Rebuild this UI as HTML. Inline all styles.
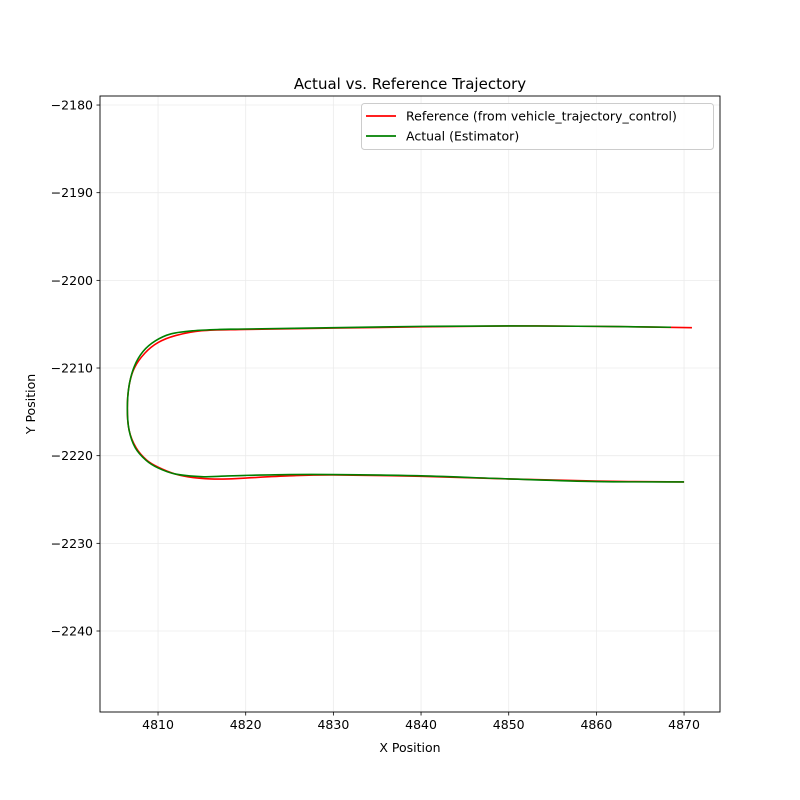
<!DOCTYPE html>
<html><head><meta charset="utf-8"><style>
html,body{margin:0;padding:0;background:#fff;}
svg{display:block;font-family:"DejaVu Sans","Liberation Sans",sans-serif;}
</style></head><body>
<svg id="chart" width="800" height="800" viewBox="0 0 800 800" xmlns="http://www.w3.org/2000/svg"></svg>
<script>
const xTicks = [4810, 4820, 4830, 4840, 4850, 4860, 4870];
const yTicks = [-2180, -2190, -2200, -2210, -2220, -2230, -2240];
const refX = [4870.9,4860,4850,4840,4830,4820,4815,4812,4810,4808.5,4807.3,4806.7,4806.5,4806.7,4807.5,4808.7,4810,4812,4814,4816,4818,4820,4825,4830,4840,4850,4860,4870];
const refY = [-2205.4,-2205.25,-2205.2,-2205.3,-2205.45,-2205.6,-2205.75,-2206.3,-2207.1,-2208.3,-2210,-2212,-2214.6,-2217.1,-2219.1,-2220.5,-2221.3,-2222.1,-2222.5,-2222.65,-2222.65,-2222.55,-2222.3,-2222.2,-2222.35,-2222.65,-2222.9,-2223.0];
const actX = [4870,4860,4850,4840,4830,4825,4820,4817,4815,4812,4810,4808.6,4807.4,4806.7,4806.5,4806.7,4807.3,4808.3,4809.7,4811.5,4814,4817,4820,4830,4840,4850,4860,4868.5];
const actY = [-2223.0,-2222.95,-2222.65,-2222.3,-2222.15,-2222.15,-2222.25,-2222.35,-2222.4,-2222.1,-2221.4,-2220.5,-2219.1,-2217.1,-2214.6,-2212,-2209.8,-2208.1,-2206.9,-2206.1,-2205.75,-2205.6,-2205.55,-2205.4,-2205.25,-2205.2,-2205.25,-2205.35];

const NS="http://www.w3.org/2000/svg";
const svg=document.getElementById('chart');
const L=100,R=720,T=96,B=712;
const xMin=4803.38,xMax=4874.1,yMin=-2249.24,yMax=-2178.97;
function sx(v){return L+(v-xMin)/(xMax-xMin)*(R-L);}
function sy(v){return B-(v-yMin)/(yMax-yMin)*(B-T);}
function mk(tag,attrs,parent){const e=document.createElementNS(NS,tag);for(const k in attrs)e.setAttribute(k,attrs[k]);(parent||svg).appendChild(e);return e;}

const grid=mk('g',{});


const xAxisG=mk('g',{});


xTicks.forEach(v=>{
  const x=sx(v);
  const gl=mk('line',{x1:x,x2:x,y1:T,y2:B,stroke:'#ebebeb','stroke-width':0.8},grid);
  
  
  const tk=mk('line',{x1:x,x2:x,y1:B,y2:B+3.5,stroke:'#000','stroke-width':0.8},xAxisG);
  
  
  const t=mk('text',{x:x,y:B+17,'font-size':12.5,'text-anchor':'middle',fill:'#000'},xAxisG);
  t.textContent=v;
  
  
});
const yAxisG=mk('g',{});


yTicks.forEach(v=>{
  const y=sy(v);
  const gl=mk('line',{x1:L,x2:R,y1:y,y2:y,stroke:'#ebebeb','stroke-width':0.8},grid);
  
  
  const tk=mk('line',{x1:L-3.5,x2:L,y1:y,y2:y,stroke:'#000','stroke-width':0.8},yAxisG);
  
  
  const t=mk('text',{x:L-7,y:y+4.5,'font-size':12.5,'text-anchor':'end',fill:'#000'},yAxisG);
  t.textContent=String(v).replace('-','\u2212');
  
  
});
function line(xs,ys,color,name){
  const P=xs.map((x,i)=>[sx(x),sy(ys[i])]);
  let d='M'+P[0][0].toFixed(2)+','+P[0][1].toFixed(2);
  for(let i=0;i<P.length-1;i++){
    const p0=P[Math.max(0,i-1)],p1=P[i],p2=P[i+1],p3=P[Math.min(P.length-1,i+2)];
    const c1=[p1[0]+(p2[0]-p0[0])/6,p1[1]+(p2[1]-p0[1])/6];
    const c2=[p2[0]-(p3[0]-p1[0])/6,p2[1]-(p3[1]-p1[1])/6];
    d+=' C'+c1[0].toFixed(2)+','+c1[1].toFixed(2)+' '+c2[0].toFixed(2)+','+c2[1].toFixed(2)+' '+p2[0].toFixed(2)+','+p2[1].toFixed(2);
  }
  const p=mk('path',{d:d,fill:'none',stroke:color,'stroke-width':1.6,'stroke-linejoin':'round'});
  
  
}
line(refX,refY,'#ff0000','reference-line');
line(actX,actY,'#008000','actual-line');
const frame=mk('rect',{x:L,y:T,width:R-L,height:B-T,fill:'none',stroke:'#000','stroke-width':0.9});



const title=mk('text',{x:(L+R)/2,y:89,'font-size':15,'text-anchor':'middle',fill:'#000'});
title.textContent='Actual vs. Reference Trajectory';


const xl=mk('text',{x:(L+R)/2,y:752,'font-size':12.5,'text-anchor':'middle',fill:'#000'});
xl.textContent='X Position';


const yl=mk('text',{x:35,y:(T+B)/2,'font-size':12.5,'text-anchor':'middle',fill:'#000',transform:'rotate(-90 35 '+((T+B)/2)+')'});
yl.textContent='Y Position';



const lg=mk('g',{});


mk('rect',{x:361.5,y:103.5,width:352,height:46,rx:3,fill:'#fff','fill-opacity':0.85,stroke:'#cccccc','stroke-width':1},lg);
const entries=[['Reference (from vehicle_trajectory_control)','#ff0000',116],['Actual (Estimator)','#008000',136]];
entries.forEach(e=>{
  const g=mk('g',{},lg);
  
  
  mk('line',{x1:366,x2:396,y1:e[2],y2:e[2],stroke:e[1],'stroke-width':1.8},g);
  const t=mk('text',{x:406,y:e[2]+4.5,'font-size':12.5,fill:'#000'},g);
  t.textContent=e[0];
});
</script>
</body></html>
